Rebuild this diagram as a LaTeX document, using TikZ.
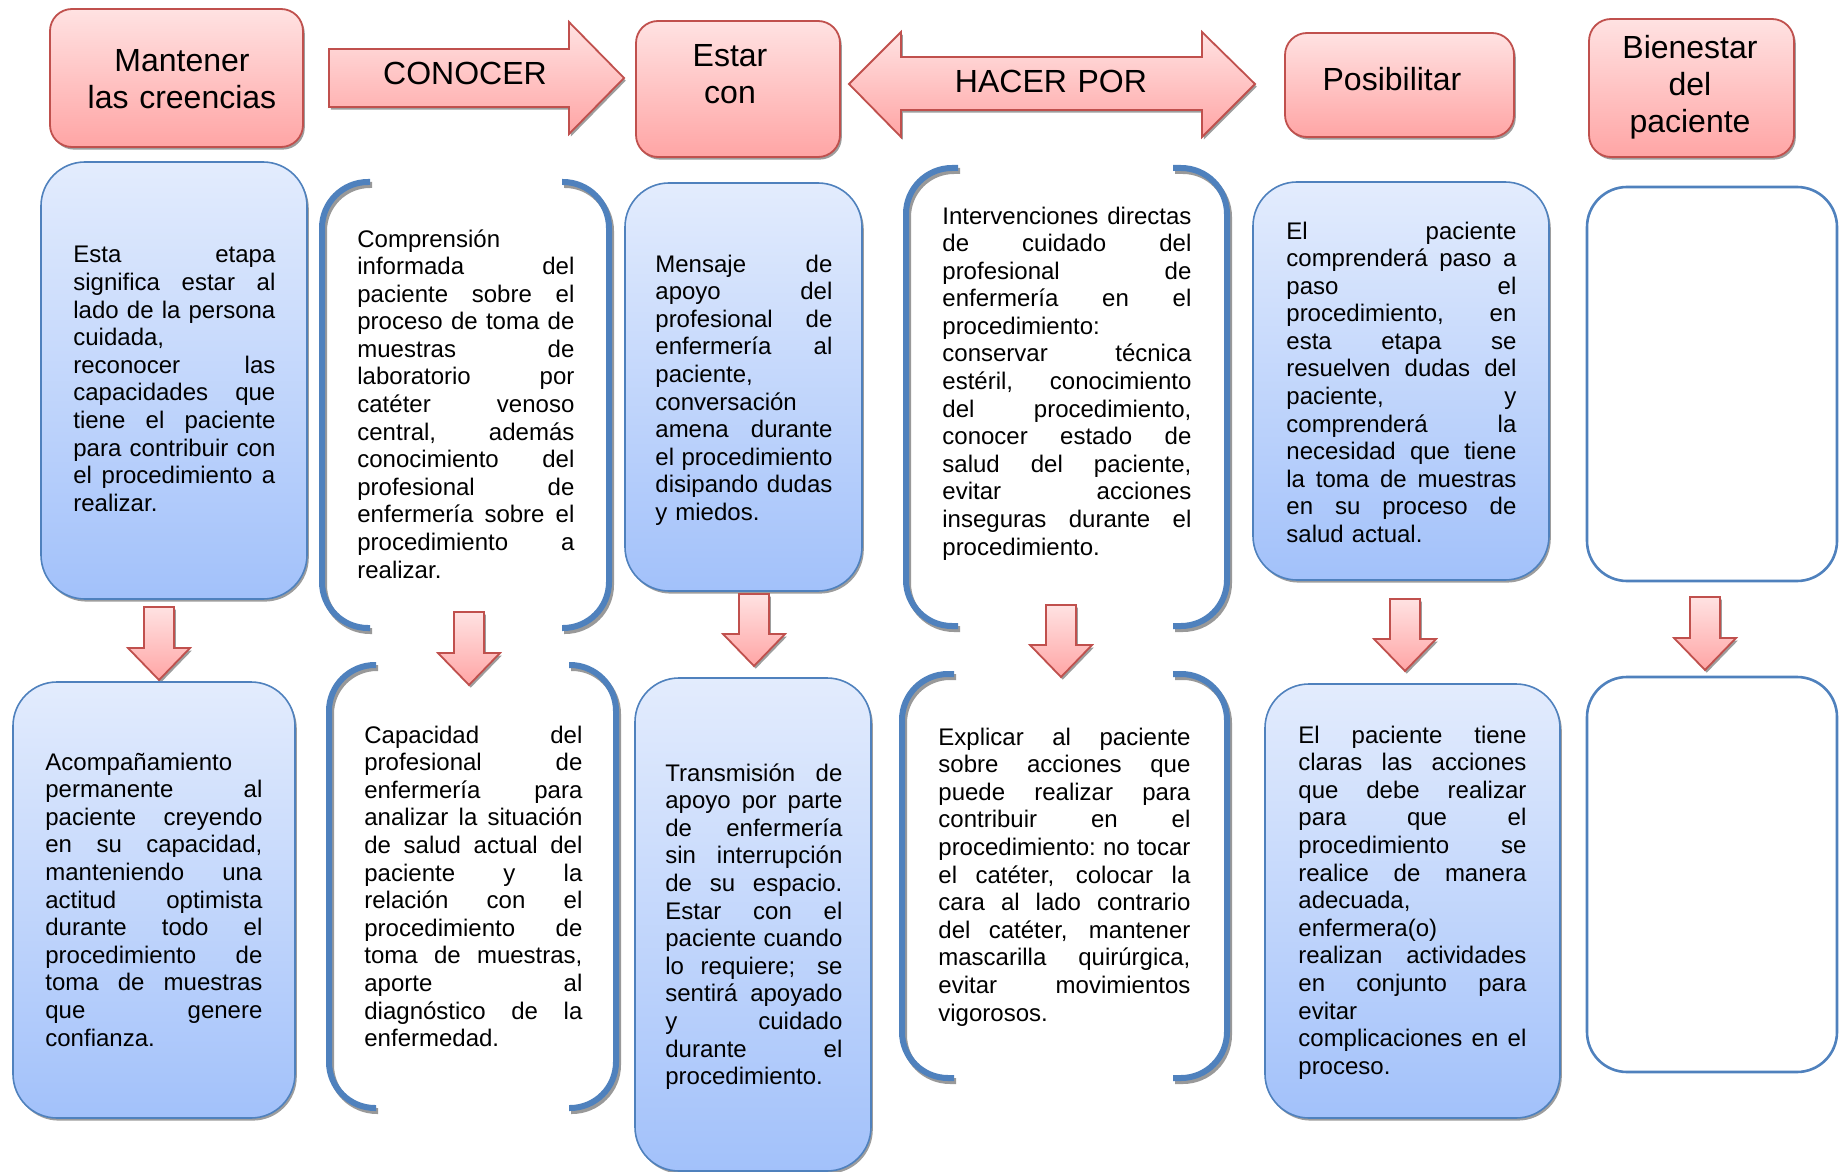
\documentclass[tikz,border=0pt]{standalone}
\usepackage{fontspec}
\setmainfont{Liberation Sans}
\usetikzlibrary{shadows}

\definecolor{redline}{HTML}{C0504D}
\definecolor{redtop}{HTML}{FFE2E2}
\definecolor{redbot}{HTML}{FFA5A5}
\definecolor{blueline}{HTML}{4F81BD}
\definecolor{bluetop}{HTML}{E3ECFD}
\definecolor{bluebot}{HTML}{A2C1FA}

% one justified line of a text block: interword spaces stretch to the full width
\newcommand\jl[1]{\leavevmode\hbox to \hsize{\spaceskip=0.278em plus 1fil\relax
  \xspaceskip=\spaceskip #1}}
% block arrow pointing down: centre x, top y, tip y
\newcommand\dnarrow[3]{%
  \draw[redshape] (#1-15,#2) -- (#1+15,#2) -- (#1+15,#3-32) -- (#1+31,#3-32)
    -- (#1,#3) -- (#1-31,#3-32) -- (#1-15,#3-32) -- cycle;}

\tikzset{
  softshadow/.style={drop shadow={shadow xshift=0.9pt,shadow yshift=-1.3pt,fill=black!55,opacity=0.7}},
  redshape/.style={draw=redline, line width=0.9pt, top color=redtop, bottom color=redbot, softshadow},
  headbox/.style={redshape, rounded corners=11pt},
  bluebox/.style={draw=blueline, line width=0.8pt, top color=bluetop, bottom color=bluebot, rounded corners=22pt, softshadow},
  emptybox/.style={draw=blueline, line width=1.3pt, fill=white, rounded corners=20pt},
  bracketline/.style={draw=blueline, line width=3pt, rounded corners=23pt},
  bracketshade/.style={draw=black!40, line width=3pt, rounded corners=23pt, shift={(2,3)}},
  bodytext/.style={inner sep=0pt, anchor=base west, align=left, text width=#1,
    font=\fontsize{12}{13.8}\selectfont},
  headtext/.style={inner sep=0pt, anchor=base, align=center, text width=130pt, font=\fontsize{16}{18.4}\selectfont},
}

\begin{document}
\begin{tikzpicture}[x=0.5pt,y=-0.5pt]
\useasboundingbox (0,0) rectangle (1843,1172);

% ---------- header row ----------
\draw[headbox] (50,9) rectangle (303,147);
\node[headtext] (hmant) at (182,72) {Mantener\\las creencias};

\draw[redshape] (329,49) -- (569,49) -- (569,22) -- (624,78) -- (569,134) -- (569,107) -- (329,107) -- cycle;
\node[headtext] (hcon) at (465,85) {CONOCER};

\draw[headbox] (636,21) rectangle (840,157);
\node[headtext] (hestar) at (730,67) {Estar\\con};

\draw[redshape] (849,84) -- (901,32) -- (901,57) -- (1202,57) -- (1202,32) -- (1255,84)
  -- (1202,137) -- (1202,110) -- (901,110) -- (901,137) -- cycle;
\node[headtext] (hhacer) at (1051,93) {HACER POR};

\draw[headbox] (1285,33) rectangle (1514,137);
\node[headtext] (hposib) at (1392,91) {Posibilitar};

\draw[headbox] (1589,19) rectangle (1794,157);
\node[headtext] (hbien) at (1690,59) {Bienestar\\del\\paciente};

% ---------- brackets (shadows first) ----------
\foreach \t/\b/\l/\ls/\r/\rs in {182/628/322/370/609/562, 168/626/906/958/1227/1173,
                                  665/1108/329/376/616/569, 674/1078/902/954/1227/1173}{
  \draw[bracketshade] (\ls,\t) -- (\l,\t) -- (\l,\b) -- (\ls,\b);
  \draw[bracketshade] (\rs,\t) -- (\r,\t) -- (\r,\b) -- (\rs,\b);
  \draw[bracketline] (\ls,\t) -- (\l,\t) -- (\l,\b) -- (\ls,\b);
  \draw[bracketline] (\rs,\t) -- (\r,\t) -- (\r,\b) -- (\rs,\b);
}

% ---------- upper row ----------
\draw[bluebox] (41,162) rectangle (307,599);
\node[bodytext=101pt] (b1) at (73,263) {%
\jl{Esta etapa}\\
\jl{significa estar al}\\
\jl{lado de la persona}\\
cuidada,\\
\jl{reconocer las}\\
\jl{capacidades que}\\
\jl{tiene el paciente}\\
\jl{para contribuir con}\\
\jl{el procedimiento a}\\
realizar.};

\node[bodytext=108.5pt] (b2) at (357,247) {%
Comprensión\\
\jl{informada del}\\
\jl{paciente sobre el}\\
\jl{proceso de toma de}\\
\jl{muestras de}\\
\jl{laboratorio por}\\
\jl{catéter venoso}\\
\jl{central, además}\\
\jl{conocimiento del}\\
\jl{profesional de}\\
\jl{enfermería sobre el}\\
\jl{procedimiento a}\\
realizar.};

\draw[bluebox] (625,183) rectangle (862,591);
\node[bodytext=88.5pt] (b3) at (655,272) {%
\jl{Mensaje de}\\
\jl{apoyo del}\\
\jl{profesional de}\\
\jl{enfermería al}\\
paciente,\\
conversación\\
\jl{amena durante}\\
\jl{el procedimiento}\\
\jl{disipando dudas}\\
y miedos.};

\node[bodytext=124.5pt] (b4) at (942,224) {%
\jl{Intervenciones directas}\\
\jl{de cuidado del}\\
\jl{profesional de}\\
\jl{enfermería en el}\\
procedimiento:\\
\jl{conservar técnica}\\
\jl{estéril, conocimiento}\\
\jl{del procedimiento,}\\
\jl{conocer estado de}\\
\jl{salud del paciente,}\\
\jl{evitar acciones}\\
\jl{inseguras durante el}\\
procedimiento.};

\draw[bluebox] (1253,182) rectangle (1549,580);
\node[bodytext=115pt] (b5) at (1286,239) {%
\jl{El paciente}\\
\jl{comprenderá paso a}\\
\jl{paso el}\\
\jl{procedimiento, en}\\
\jl{esta etapa se}\\
\jl{resuelven dudas del}\\
\jl{paciente, y}\\
\jl{comprenderá la}\\
\jl{necesidad que tiene}\\
\jl{la toma de muestras}\\
\jl{en su proceso de}\\
salud actual.};

\draw[emptybox] (1587,187) rectangle (1837,581);

% ---------- down arrows ----------
\dnarrow{159}{607}{680}
\dnarrow{469}{612}{685}
\dnarrow{754}{594}{666}
\dnarrow{1061}{605}{677}
\dnarrow{1405}{599}{671}
\dnarrow{1705}{597}{670}

% ---------- lower row ----------
\draw[bluebox] (13,682) rectangle (295,1118);
\node[bodytext=108.5pt] (c1) at (45,770) {%
Acompañamiento\\
\jl{permanente al}\\
\jl{paciente creyendo}\\
\jl{en su capacidad,}\\
\jl{manteniendo una}\\
\jl{actitud optimista}\\
\jl{durante todo el}\\
\jl{procedimiento de}\\
\jl{toma de muestras}\\
\jl{que genere}\\
confianza.};

\node[bodytext=109pt] (c2) at (364,743) {%
\jl{Capacidad del}\\
\jl{profesional de}\\
\jl{enfermería para}\\
\jl{analizar la situación}\\
\jl{de salud actual del}\\
\jl{paciente y la}\\
\jl{relación con el}\\
\jl{procedimiento de}\\
\jl{toma de muestras,}\\
\jl{aporte al}\\
\jl{diagnóstico de la}\\
enfermedad.};

\draw[bluebox] (635,678) rectangle (871,1171);
\node[bodytext=88.5pt] (c3) at (665,781) {%
\jl{Transmisión de}\\
\jl{apoyo por parte}\\
\jl{de enfermería}\\
\jl{sin interrupción}\\
\jl{de su espacio.}\\
\jl{Estar con el}\\
\jl{paciente cuando}\\
\jl{lo requiere; se}\\
\jl{sentirá apoyado}\\
\jl{y cuidado}\\
\jl{durante el}\\
procedimiento.};

\node[bodytext=126pt] (c4) at (938,745) {%
\jl{Explicar al paciente}\\
\jl{sobre acciones que}\\
\jl{puede realizar para}\\
\jl{contribuir en el}\\
\jl{procedimiento: no tocar}\\
\jl{el catéter, colocar la}\\
\jl{cara al lado contrario}\\
\jl{del catéter, mantener}\\
\jl{mascarilla quirúrgica,}\\
\jl{evitar movimientos}\\
vigorosos.};

\draw[bluebox] (1265,684) rectangle (1560,1118);
\node[bodytext=114pt] (c5) at (1298,743) {%
\jl{El paciente tiene}\\
\jl{claras las acciones}\\
\jl{que debe realizar}\\
\jl{para que el}\\
\jl{procedimiento se}\\
\jl{realice de manera}\\
adecuada,\\
enfermera(o)\\
\jl{realizan actividades}\\
\jl{en conjunto para}\\
evitar\\
\jl{complicaciones en el}\\
proceso.};

\draw[emptybox] (1587,677) rectangle (1837,1072);
\end{tikzpicture}
\end{document}
